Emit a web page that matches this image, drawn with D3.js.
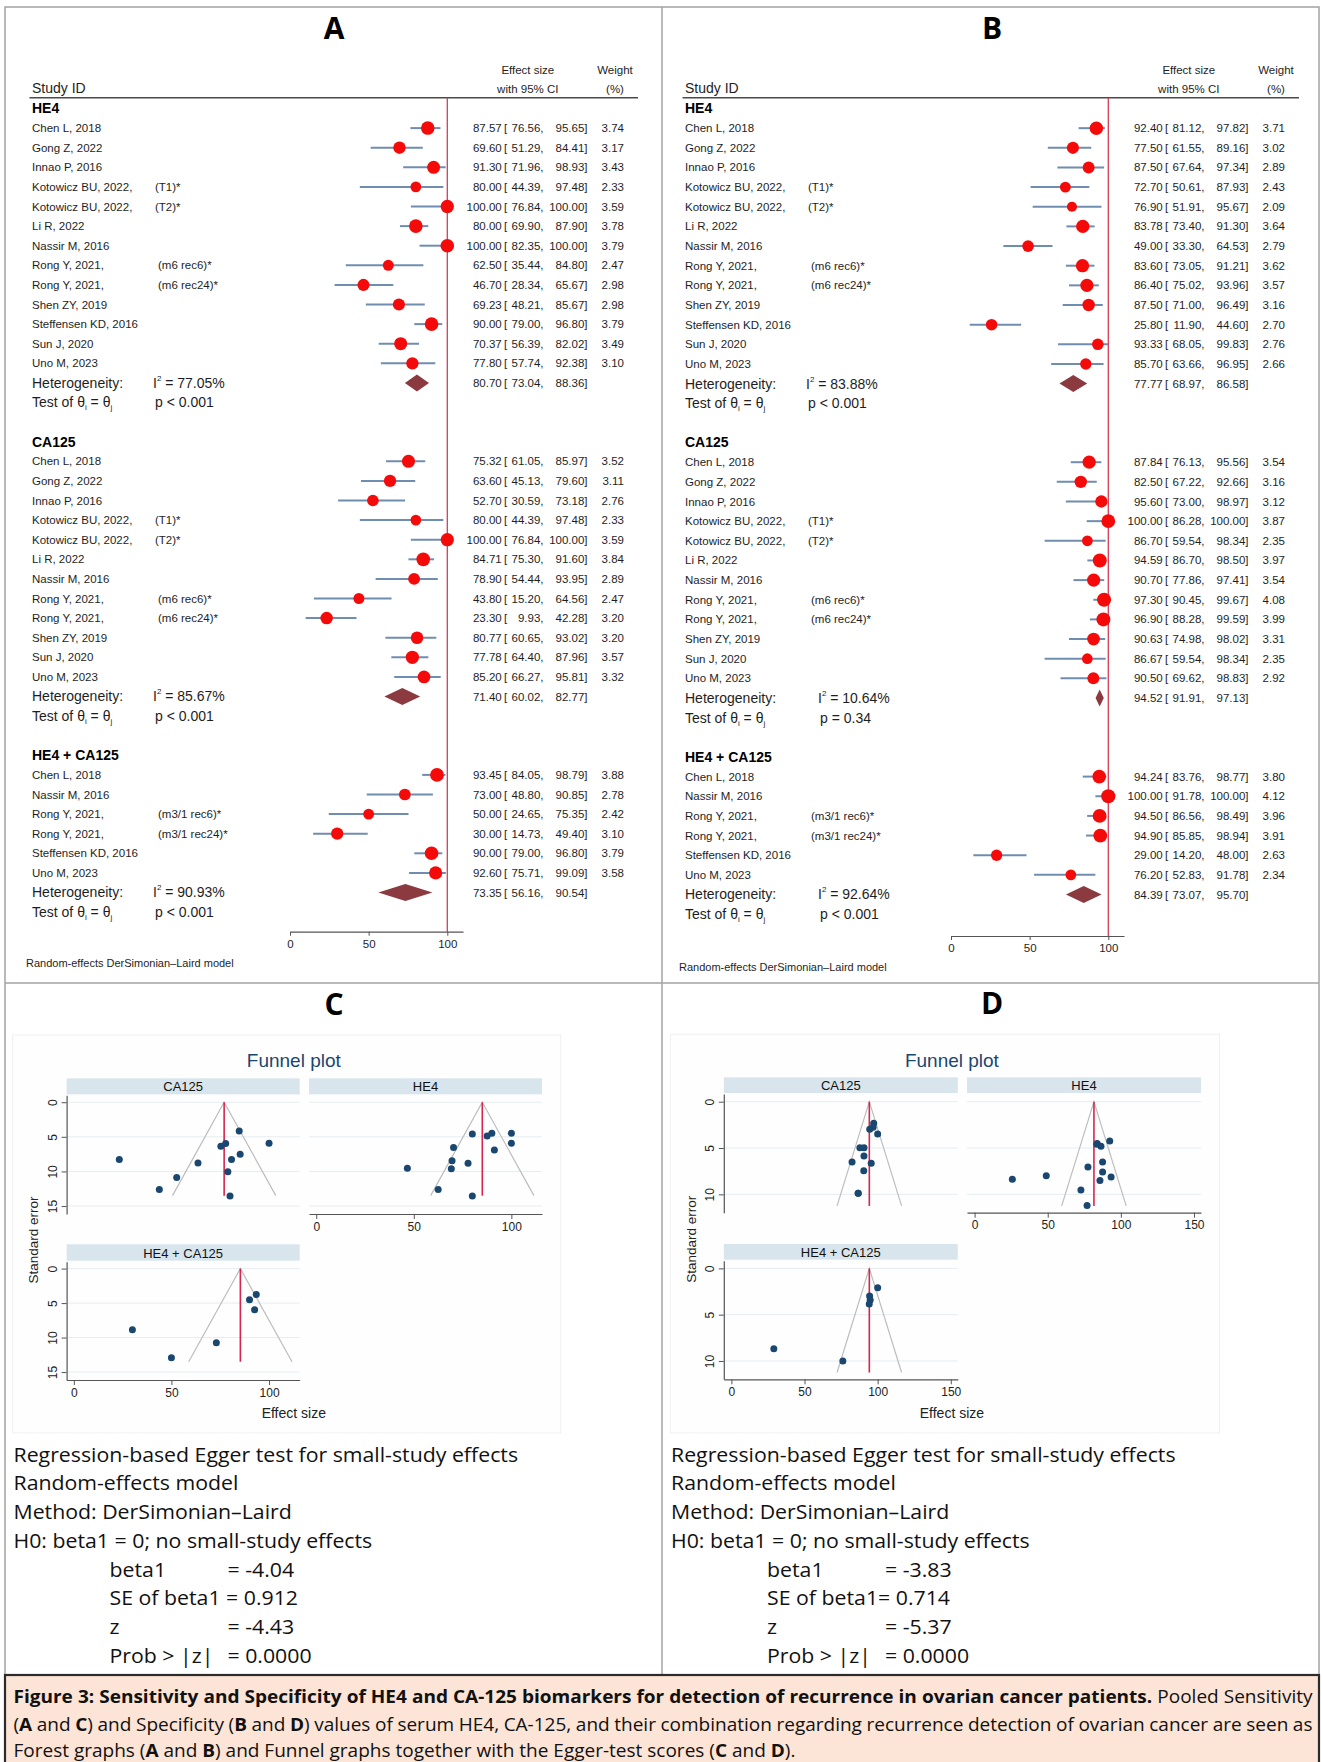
<!DOCTYPE html>
<html>
<head>
<meta charset="utf-8">
<script src="https://cdn.jsdelivr.net/npm/d3@7"></script>
<style>
  body { margin: 0; background: #fff; }
  svg { display: block; }
</style>
</head>
<body>
<svg id="fig" width="1322" height="1762"></svg>
<script>
// ---------------- study labels ----------------
const groupNames = ["HE4", "CA125", "HE4 + CA125"];
const he4Labels = ["Chen L, 2018", "Gong Z, 2022", "Innao P, 2016", "Kotowicz BU, 2022,", "Kotowicz BU, 2022,", "Li R, 2022", "Nassir M, 2016", "Rong Y, 2021,", "Rong Y, 2021,", "Shen ZY, 2019", "Steffensen KD, 2016", "Sun J, 2020", "Uno M, 2023"];
const he4Notes = ["", "", "", "(T1)*", "(T2)*", "", "", "(m6 rec6)*", "(m6 rec24)*", "", "", "", ""];
const ca125Labels = ["Chen L, 2018", "Gong Z, 2022", "Innao P, 2016", "Kotowicz BU, 2022,", "Kotowicz BU, 2022,", "Li R, 2022", "Nassir M, 2016", "Rong Y, 2021,", "Rong Y, 2021,", "Shen ZY, 2019", "Sun J, 2020", "Uno M, 2023"];
const ca125Notes = ["", "", "", "(T1)*", "(T2)*", "", "", "(m6 rec6)*", "(m6 rec24)*", "", "", ""];
const comboLabels = ["Chen L, 2018", "Nassir M, 2016", "Rong Y, 2021,", "Rong Y, 2021,", "Steffensen KD, 2016", "Uno M, 2023"];
const comboNotes = ["", "", "(m3/1 rec6)*", "(m3/1 rec24)*", "", ""];

// ---------------- sensitivity (panel A) ----------------
const sensHE4Es = [87.57, 69.60, 91.30, 80.00, 100.00, 80.00, 100.00, 62.50, 46.70, 69.23, 90.00, 70.37, 77.80];
const sensHE4Lo = [76.56, 51.29, 71.96, 44.39, 76.84, 69.90, 82.35, 35.44, 28.34, 48.21, 79.00, 56.39, 57.74];
const sensHE4Hi = [95.65, 84.41, 98.93, 97.48, 100.00, 87.90, 100.00, 84.80, 65.67, 85.67, 96.80, 82.02, 92.38];
const sensHE4W  = [3.74, 3.17, 3.43, 2.33, 3.59, 3.78, 3.79, 2.47, 2.98, 2.98, 3.79, 3.49, 3.10];
const sensCA125Es = [75.32, 63.60, 52.70, 80.00, 100.00, 84.71, 78.90, 43.80, 23.30, 80.77, 77.78, 85.20];
const sensCA125Lo = [61.05, 45.13, 30.59, 44.39, 76.84, 75.30, 54.44, 15.20, 9.93, 60.65, 64.40, 66.27];
const sensCA125Hi = [85.97, 79.60, 73.18, 97.48, 100.00, 91.60, 93.95, 64.56, 42.28, 93.02, 87.96, 95.81];
const sensCA125W  = [3.52, 3.11, 2.76, 2.33, 3.59, 3.84, 2.89, 2.47, 3.20, 3.20, 3.57, 3.32];
const sensComboEs = [93.45, 73.00, 50.00, 30.00, 90.00, 92.60];
const sensComboLo = [84.05, 48.80, 24.65, 14.73, 79.00, 75.71];
const sensComboHi = [98.79, 90.85, 75.35, 49.40, 96.80, 99.09];
const sensComboW  = [3.88, 2.78, 2.42, 3.10, 3.79, 3.58];
const sensPooled = [[80.70, 73.04, 88.36], [71.40, 60.02, 82.77], [73.35, 56.16, 90.54]];
const sensI2 = ["77.05%", "85.67%", "90.93%"];
const sensP = ["p < 0.001", "p < 0.001", "p < 0.001"];

// ---------------- specificity (panel B) ----------------
const specHE4Es = [92.40, 77.50, 87.50, 72.70, 76.90, 83.78, 49.00, 83.60, 86.40, 87.50, 25.80, 93.33, 85.70];
const specHE4Lo = [81.12, 61.55, 67.64, 50.61, 51.91, 73.40, 33.30, 73.05, 75.02, 71.00, 11.90, 68.05, 63.66];
const specHE4Hi = [97.82, 89.16, 97.34, 87.93, 95.67, 91.30, 64.53, 91.21, 93.96, 96.49, 44.60, 99.83, 96.95];
const specHE4W  = [3.71, 3.02, 2.89, 2.43, 2.09, 3.64, 2.79, 3.62, 3.57, 3.16, 2.70, 2.76, 2.66];
const specCA125Es = [87.84, 82.50, 95.60, 100.00, 86.70, 94.59, 90.70, 97.30, 96.90, 90.63, 86.67, 90.50];
const specCA125Lo = [76.13, 67.22, 73.00, 86.28, 59.54, 86.70, 77.86, 90.45, 88.28, 74.98, 59.54, 69.62];
const specCA125Hi = [95.56, 92.66, 98.97, 100.00, 98.34, 98.50, 97.41, 99.67, 99.59, 98.02, 98.34, 98.83];
const specCA125W  = [3.54, 3.16, 3.12, 3.87, 2.35, 3.97, 3.54, 4.08, 3.99, 3.31, 2.35, 2.92];
const specComboEs = [94.24, 100.00, 94.50, 94.90, 29.00, 76.20];
const specComboLo = [83.76, 91.78, 86.56, 85.85, 14.20, 52.83];
const specComboHi = [98.77, 100.00, 98.49, 98.94, 48.00, 91.78];
const specComboW  = [3.80, 4.12, 3.96, 3.91, 2.63, 2.34];
const specPooled = [[77.77, 68.97, 86.58], [94.52, 91.91, 97.13], [84.39, 73.07, 95.70]];
const specI2 = ["83.88%", "10.64%", "92.64%"];
const specP = ["p < 0.001", "p = 0.34", "p < 0.001"];

// ---------------- funnel plots: standard errors per study ----------------
const sensSeHE4 = [4.88, 8.45, 6.90, 13.56, 5.94, 4.59, 4.50, 12.60, 9.55, 9.60, 4.50, 6.55, 8.83];
const sensSeCA125 = [6.37, 8.78, 10.86, 13.56, 5.94, 4.15, 10.04, 12.60, 8.26, 8.26, 5.98, 7.53];
const sensSeCombo = [3.76, 10.75, 12.92, 8.87, 4.53, 5.98];
const specSeHE4 = [4.24, 7.06, 7.58, 9.52, 11.19, 4.50, 7.98, 4.58, 4.80, 6.50, 8.37, 8.12, 8.51];
const specSeCA125 = [4.96, 6.50, 6.65, 3.48, 9.88, 2.98, 4.96, 2.33, 2.76, 5.86, 9.88, 7.44];
const specSeCombo = [3.85, 2.09, 2.99, 3.42, 8.67, 10.00];
// funnel centre lines, order: CA125, HE4, HE4 + CA125
const sensFunnelCentre = [77.0, 85.1, 85.3];
const specFunnelCentre = [94.3, 81.6, 94.3];
const sensFunnelSeMax = 13.5;
const specFunnelSeMax = 11.25;

// ---------------- tick labels ----------------
const forestTicks = [0, 50, 100];
const funnelTicksC = [0, 50, 100];
const funnelTicksD = [0, 50, 100, 150];
const seTicksC = [0, 5, 10, 15];
const seTicksD = [0, 5, 10];

// ---------------- Egger test output ----------------
const eggerHead = ["Regression-based Egger test for small-study effects", "Random-effects model", "Method: DerSimonian\u2013Laird", "H0: beta1 = 0; no small-study effects"];
const eggerC = [["beta1", "= -4.04"], ["SE of beta1 = 0.912", ""], ["z", "= -4.43"], ["Prob > |z|", "= 0.0000"]];
const eggerD = [["beta1", "= -3.83"], ["SE of beta1= 0.714", ""], ["z", "= -5.37"], ["Prob > |z|", "= 0.0000"]];

// ---------------- caption ----------------
const captionLines = [
  [["Figure 3: Sensitivity and Specificity of HE4 and CA-125 biomarkers for detection of recurrence in ovarian cancer patients.", true], [" Pooled Sensitivity", false]],
  [["(", false], ["A", true], [" and ", false], ["C", true], [") and Specificity (", false], ["B", true], [" and ", false], ["D", true], [") values of serum HE4, CA-125, and their combination regarding recurrence detection of ovarian cancer are seen as", false]],
  [["Forest graphs (", false], ["A", true], [" and ", false], ["B", true], [") and Funnel graphs together with the Egger-test scores (", false], ["C", true], [" and ", false], ["D", true], [").", false]]
];

// =====================================================================
const svg = d3.select("#fig");
const ARIAL = "'Liberation Sans', Arial, Helvetica, sans-serif";
const HUMAN = "'Open Sans', 'Noto Sans', sans-serif";
const f2 = d3.format(".2f");

function makeGroups(lab, notes, es, lo, hi, w) {
  return lab.map((l, i) => ({ label: l, note: notes[i], es: es[i], lo: lo[i], hi: hi[i], w: w[i] }));
}

const sensGroups = [
  makeGroups(he4Labels, he4Notes, sensHE4Es, sensHE4Lo, sensHE4Hi, sensHE4W),
  makeGroups(ca125Labels, ca125Notes, sensCA125Es, sensCA125Lo, sensCA125Hi, sensCA125W),
  makeGroups(comboLabels, comboNotes, sensComboEs, sensComboLo, sensComboHi, sensComboW)
];
const specGroups = [
  makeGroups(he4Labels, he4Notes, specHE4Es, specHE4Lo, specHE4Hi, specHE4W),
  makeGroups(ca125Labels, ca125Notes, specCA125Es, specCA125Lo, specCA125Hi, specCA125W),
  makeGroups(comboLabels, comboNotes, specComboEs, specComboLo, specComboHi, specComboW)
];

// ---------------- frames ----------------
svg.append("rect").attr("x", 5).attr("y", 7).attr("width", 1314).attr("height", 1668)
  .attr("fill", "#fff").attr("stroke", "#a3a3a3").attr("stroke-width", 1.5);
svg.append("line").attr("x1", 662).attr("x2", 662).attr("y1", 7).attr("y2", 1675)
  .attr("stroke", "#a3a3a3").attr("stroke-width", 1.5);
svg.append("line").attr("x1", 5).attr("x2", 1319).attr("y1", 983).attr("y2", 983)
  .attr("stroke", "#a3a3a3").attr("stroke-width", 1.5);

// ---------------- forest plots ----------------
function drawForest(p) {
  const g = svg.append("g").attr("font-family", ARIAL).attr("fill", "#1e1e1e");
  const x = d3.scaleLinear().domain([0, 110]).range([p.x0, p.x0 + 110 * p.k]);
  const r = d3.scaleSqrt().domain([0, 4]).range([0, 7]);
  const rowY = i => p.top + i * p.step;
  const ox = p.ox;
  const col = { est: ox + 501.7, br: ox + 504, lo: ox + 543.5, hi: ox + 587.5, w: ox + 624 };

  g.append("text").attr("x", p.titleX).attr("y", 38.5).attr("text-anchor", "middle")
    .attr("font-family", HUMAN).attr("font-weight", 700).attr("font-size", 30).attr("fill", "#000").text(p.letter);

  g.append("text").attr("x", p.labelX).attr("y", 88).attr("dy", "0.35em").attr("font-size", 14).text("Study ID");
  [["Effect size", ox + 527.8, 70.3], ["with 95% CI", ox + 527.8, 88.7], ["Weight", ox + 615, 70.3], ["(%)", ox + 615, 88.7]]
    .forEach(([t, tx, ty]) => g.append("text").attr("x", tx).attr("y", ty).attr("dy", "0.35em")
      .attr("text-anchor", "middle").attr("font-size", 11.5).text(t));
  g.append("line").attr("x1", p.labelX - 2.5).attr("x2", ox + 638).attr("y1", 97.7).attr("y2", 97.7)
    .attr("stroke", "#4a4a4a").attr("stroke-width", 1.6);

  // reference line at 100
  g.append("line").attr("x1", x(100)).attr("x2", x(100)).attr("y1", 97.7).attr("y2", p.axisY)
    .attr("stroke", "#d83a55").attr("stroke-width", 1.3);

  function numCols(y, es, lo, hi, w) {
    const t = (tx, anchor, s) => g.append("text").attr("x", tx).attr("y", y).attr("dy", "0.35em")
      .attr("text-anchor", anchor).attr("font-size", 11.5).text(s);
    t(col.est, "end", f2(es));
    t(col.br, "start", "[");
    t(col.lo, "end", f2(lo) + ",");
    t(col.hi, "end", f2(hi) + "]");
    if (w !== null) t(col.w, "end", f2(w));
  }

  let row = 0;
  p.groups.forEach((grp, gi) => {
    g.append("text").attr("x", p.labelX).attr("y", rowY(row)).attr("dy", "0.35em")
      .attr("font-size", 14).attr("font-weight", 700).attr("fill", "#000").text(groupNames[gi]);
    row++;
    grp.forEach(d => {
      const y = rowY(row);
      g.append("text").attr("x", p.labelX).attr("y", y).attr("dy", "0.35em").attr("font-size", 11.5).text(d.label);
      if (d.note) {
        const nx = p.labelX + (d.note.startsWith("(T") ? 123 : 126);
        g.append("text").attr("x", nx).attr("y", y).attr("dy", "0.35em").attr("font-size", 11.5).text(d.note);
      }
      g.append("line").attr("x1", x(d.lo)).attr("x2", x(d.hi)).attr("y1", y).attr("y2", y)
        .attr("stroke", "#6f8db0").attr("stroke-width", 2);
      g.append("circle").attr("cx", x(d.es)).attr("cy", y).attr("r", r(d.w)).attr("fill", "#f50a0a");
      numCols(y, d.es, d.lo, d.hi, d.w);
      row++;
    });
    // pooled estimate
    const y = rowY(row);
    const [pe, pl, ph] = p.pooled[gi];
    g.append("path")
      .attr("d", `M${x(pl)},${y}L${x(pe)},${y - 8.5}L${x(ph)},${y}L${x(pe)},${y + 8.5}Z`)
      .attr("fill", "#8b3a3f");
    numCols(y, pe, pl, ph, null);
    const hx = p.labelX + p.hetOff[gi];
    g.append("text").attr("x", p.labelX).attr("y", y).attr("dy", "0.35em").attr("font-size", 14).text("Heterogeneity:");
    const ht = g.append("text").attr("x", hx).attr("y", y).attr("dy", "0.35em").attr("font-size", 14);
    ht.append("tspan").text("I");
    ht.append("tspan").attr("font-size", 8).attr("dy", -7).text("2");
    ht.append("tspan").attr("dy", 7).text(" = " + p.i2[gi]);
    row++;
    const yt = rowY(row);
    const tt = g.append("text").attr("x", p.labelX).attr("y", yt).attr("dy", "0.35em").attr("font-size", 14);
    tt.append("tspan").text("Test of \u03b8");
    tt.append("tspan").attr("font-size", 8).attr("dy", 3).text("i");
    tt.append("tspan").attr("dy", -3).text(" = \u03b8");
    tt.append("tspan").attr("font-size", 8).attr("dy", 3).text("j");
    g.append("text").attr("x", hx + 2).attr("y", yt).attr("dy", "0.35em").attr("font-size", 14).text(p.pv[gi]);
    row += 2;
  });

  const ax = g.append("g").attr("transform", `translate(0,${p.axisY})`)
    .call(d3.axisBottom(x).tickValues(forestTicks).tickSize(4).tickSizeOuter(0).tickPadding(4));
  ax.select(".domain").attr("stroke", "#555").attr("stroke-width", 1.2);
  ax.selectAll(".tick line").attr("stroke", "#555");
  ax.selectAll("text").attr("font-family", ARIAL).attr("font-size", 11.5).attr("fill", "#1e1e1e");

  g.append("text").attr("x", p.reX).attr("y", p.reY).attr("dy", "0.35em").attr("font-size", 11)
    .text("Random-effects DerSimonian\u2013Laird model");
}

drawForest({ ox: 0, letter: "A", titleX: 334, labelX: 32, x0: 290, k: 1.573, top: 108.5, step: 19.6,
  axisY: 931.7, reX: 26, reY: 963.3, hetOff: [121, 121, 121],
  groups: sensGroups, pooled: sensPooled, i2: sensI2, pv: sensP });
drawForest({ ox: 661, letter: "B", titleX: 992, labelX: 685, x0: 951, k: 1.573, top: 108.5, step: 19.65,
  axisY: 936, reX: 679, reY: 966.7, hetOff: [121, 133, 133],
  groups: specGroups, pooled: specPooled, i2: specI2, pv: specP });

// ---------------- funnel plots ----------------
function drawFunnel(p) {
  const g = svg.append("g").attr("font-family", ARIAL);
  g.append("rect").attr("x", p.bg[0]).attr("y", p.bg[1]).attr("width", p.bg[2] - p.bg[0]).attr("height", p.bg[3] - p.bg[1])
    .attr("fill", "#fefefe").attr("stroke", "#eef1f4").attr("stroke-width", 1);
  g.append("text").attr("x", p.letterX).attr("y", p.letterY).attr("text-anchor", "middle")
    .attr("font-family", HUMAN).attr("font-weight", 700).attr("font-size", 30).attr("fill", "#000").text(p.letter);
  g.append("text").attr("x", p.titleX).attr("y", p.titleY).attr("dy", "0.35em").attr("text-anchor", "middle")
    .attr("font-size", 19).attr("fill", "#1a476f").text("Funnel plot");

  p.subs.forEach((sp, si) => {
    const [cx0, cx1] = p.cols[sp.col];
    const rw = p.rows[sp.row];
    const x = d3.scaleLinear().domain(p.xDomain).range([cx0, cx1]);
    const y = d3.scaleLinear().domain(p.seDomain).range([rw.plotTop, rw.plotBot]);
    const sg = g.append("g");
    // strip
    sg.append("rect").attr("x", cx0).attr("y", rw.stripTop).attr("width", cx1 - cx0).attr("height", rw.plotTop - rw.stripTop - 1)
      .attr("fill", "#d9e5ec");
    sg.append("text").attr("x", (cx0 + cx1) / 2).attr("y", (rw.stripTop + rw.plotTop) / 2).attr("dy", "0.35em")
      .attr("text-anchor", "middle").attr("font-size", 13).attr("fill", "#111").text(sp.name);
    // grid
    p.seTicks.forEach(t => sg.append("line").attr("x1", cx0).attr("x2", cx1).attr("y1", y(t)).attr("y2", y(t))
      .attr("stroke", "#e6edf1").attr("stroke-width", 1));
    // funnel limits
    const c = p.centre[si];
    const half = 1.96 * p.seMax;
    sg.append("path").attr("d", `M${x(c - half)},${y(p.seMax)}L${x(c)},${y(0)}L${x(c + half)},${y(p.seMax)}`)
      .attr("fill", "none").attr("stroke", "#bdbdbd").attr("stroke-width", 1.2);
    sg.append("line").attr("x1", x(c)).attr("x2", x(c)).attr("y1", y(0)).attr("y2", y(p.seMax))
      .attr("stroke", "#d8244f").attr("stroke-width", 1.6);
    // studies
    sp.es.forEach((e, i) => sg.append("circle").attr("cx", x(e)).attr("cy", y(sp.se[i])).attr("r", 3.5).attr("fill", "#1a476f"));
    // axes
    if (sp.showX) {
      const ax = sg.append("g").attr("transform", `translate(0,${rw.plotBot})`)
        .call(d3.axisBottom(x).tickValues(p.xTicks).tickSize(5).tickSizeOuter(0).tickPadding(3));
      ax.select(".domain").attr("stroke", "#555").attr("stroke-width", 1.2);
      ax.selectAll(".tick line").attr("stroke", "#555");
      ax.selectAll("text").attr("font-family", ARIAL).attr("font-size", 12).attr("fill", "#222");
    }
    if (sp.showY) {
      const ay = sg.append("g").attr("transform", `translate(${cx0},0)`)
        .call(d3.axisLeft(y).tickValues(p.seTicks).tickSize(5).tickSizeOuter(0).tickFormat(d3.format("d")));
      ay.select(".domain").attr("stroke", "#555").attr("stroke-width", 1.2);
      ay.selectAll(".tick line").attr("stroke", "#555");
      ay.selectAll("text").attr("font-family", ARIAL).attr("font-size", 12).attr("fill", "#222")
        .attr("x", 0).attr("dy", 0).attr("text-anchor", "middle")
        .attr("transform", "translate(-14,0) rotate(-90)")
        .attr("dominant-baseline", "central");
    }
  });

  g.append("text").attr("transform", `translate(${p.yLabelX},${p.yLabelY}) rotate(-90)`).attr("text-anchor", "middle")
    .attr("dy", "0.35em").attr("font-size", 13.5).attr("fill", "#222").text("Standard error");
  g.append("text").attr("x", p.xLabelX).attr("y", p.xLabelY).attr("dy", "0.35em").attr("text-anchor", "middle")
    .attr("font-size", 14).attr("fill", "#222").text("Effect size");
}

drawFunnel({
  letter: "C", letterX: 334, letterY: 1015, bg: [12.6, 1035, 560.7, 1433], titleX: 293.8, titleY: 1060.7,
  xDomain: [-3.7, 115.7], seDomain: [-1.0, 16.15], xTicks: funnelTicksC, seTicks: seTicksC,
  cols: [[66.6, 299.7], [309, 542]],
  rows: [{ stripTop: 1078.3, plotTop: 1095.3, plotBot: 1214 }, { stripTop: 1244.3, plotTop: 1261.7, plotBot: 1380 }],
  yLabelX: 33.7, yLabelY: 1240, xLabelX: 293.8, xLabelY: 1412.7,
  seMax: sensFunnelSeMax, centre: sensFunnelCentre,
  subs: [
    { name: "CA125", col: 0, row: 0, showX: false, showY: true, es: sensCA125Es, se: sensSeCA125 },
    { name: "HE4", col: 1, row: 0, showX: true, showY: false, es: sensHE4Es, se: sensSeHE4 },
    { name: "HE4 + CA125", col: 0, row: 1, showX: true, showY: true, es: sensComboEs, se: sensSeCombo }
  ]
});
drawFunnel({
  letter: "D", letterX: 992, letterY: 1014, bg: [670.3, 1034.3, 1219.6, 1433], titleX: 951.9, titleY: 1060,
  xDomain: [-5.2, 154.8], seDomain: [-0.83, 11.98], xTicks: funnelTicksD, seTicks: seTicksD,
  cols: [[723.8, 957.8], [967, 1201]],
  rows: [{ stripTop: 1077.3, plotTop: 1094, plotBot: 1212.7 }, { stripTop: 1244, plotTop: 1260.7, plotBot: 1379.3 }],
  yLabelX: 691.4, yLabelY: 1239.3, xLabelX: 951.9, xLabelY: 1412.7,
  seMax: specFunnelSeMax, centre: specFunnelCentre,
  subs: [
    { name: "CA125", col: 0, row: 0, showX: false, showY: true, es: specCA125Es, se: specSeCA125 },
    { name: "HE4", col: 1, row: 0, showX: true, showY: false, es: specHE4Es, se: specSeHE4 },
    { name: "HE4 + CA125", col: 0, row: 1, showX: true, showY: true, es: specComboEs, se: specSeCombo }
  ]
});

// ---------------- Egger test text ----------------
function drawEgger(x0, rows) {
  const g = svg.append("g").attr("font-family", HUMAN).attr("font-size", 20).attr("fill", "#111");
  const probe = g.append("text").text(eggerHead[0]);
  const s = 505 / probe.node().getComputedTextLength();
  probe.remove();
  const put = (t, x, y) => g.append("text").attr("transform", `translate(${x},${y}) scale(${s},1)`).text(t);
  const base = 1461.7, lh = 28.7;
  eggerHead.forEach((t, i) => put(t, x0, base + i * lh));
  rows.forEach(([a, b], i) => {
    const y = base + (i + 4) * lh;
    put(a, x0 + 96, y);
    if (b) put(b, x0 + 214, y);
  });
}
drawEgger(13.5, eggerC);
drawEgger(671, eggerD);

// ---------------- caption ----------------
svg.append("rect").attr("x", 5).attr("y", 1675).attr("width", 1314).attr("height", 100)
  .attr("fill", "#fce4d6").attr("stroke", "#2b2b2b").attr("stroke-width", 2.2);
(function drawCaption() {
  const g = svg.append("g").attr("font-family", HUMAN).attr("font-size", 18).attr("fill", "#111");
  const baselines = [1703.3, 1731.3, 1756.7];
  const texts = captionLines.map((segs, i) => {
    const t = g.append("text").attr("transform", `translate(13.5,${baselines[i]})`);
    segs.forEach(([s, b]) => t.append("tspan").attr("font-weight", b ? 700 : 400).text(s));
    return t;
  });
  const sc = 782.5 / texts[2].node().getComputedTextLength();
  texts.forEach((t, i) => {
    t.attr("transform", `translate(13.5,${baselines[i]}) scale(${sc},1)`);
    if (i < 2) {
      const w = t.node().getComputedTextLength();
      const spaces = captionLines[i].map(d => d[0]).join("").split(" ").length - 1;
      const target = 1299 / sc;
      t.attr("word-spacing", (target - w) / spaces);
    }
  });
})();
</script>
</body>
</html>
